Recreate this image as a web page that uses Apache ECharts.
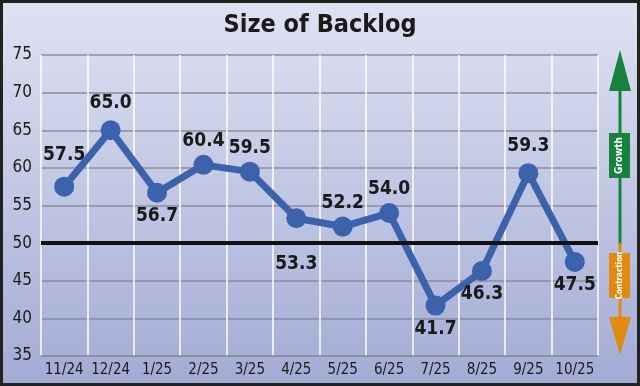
<!DOCTYPE html>
<html><head><meta charset="utf-8">
<script src="https://cdn.jsdelivr.net/npm/echarts@6/dist/echarts.min.js"></script>
<style>html,body{margin:0;padding:0;background:#fff}#c{width:640px;height:386px}</style>
</head><body><div id="c"></div>
<script>
const categories = ['11/24','12/24','1/25','2/25','3/25','4/25','5/25','6/25','7/25','8/25','9/25','10/25'];
const values = [57.5, 65.0, 56.7, 60.4, 59.5, 53.3, 52.2, 54.0, 41.7, 46.3, 59.3, 47.5];
const yTicks = [35, 40, 45, 50, 55, 60, 65, 70, 75];
const threshold = 50;
const title = 'Size of Backlog';

const FONT = "'Liberation Sans Narrow', 'DejaVu Sans Condensed', 'Roboto', sans-serif";
// label placement (style, not data)
const below = new Set([2, 5, 8, 9, 11]);
const extraDist = {0: 8, 1: 4, 5: 22, 10: 4};

const chart = echarts.init(document.getElementById('c'), null, {renderer: 'canvas'});
const data = values.map((v, i) => ({
  value: v,
  label: {position: below.has(i) ? 'bottom' : 'top', distance: 4 + (extraDist[i] || 0)}
}));

chart.setOption({
  animation: false,
  title: {
    text: title, left: 'center', top: 8,
    textStyle: {fontFamily: FONT, fontSize: 25, fontWeight: 'bold', color: '#1a1a1a'}
  },
  graphic: [
    {type: 'rect', z: -10, silent: true,
     shape: {x: 1.5, y: 1.5, width: 637, height: 383},
     style: {
       fill: new echarts.graphic.LinearGradient(0, 0, 0, 1, [
         {offset: 0, color: '#e0e2f2'}, {offset: 1, color: '#a2abd5'}]),
       stroke: '#222', lineWidth: 3
     }},
    // green arrow
    {type: 'rect', shape: {x: 618.5, y: 80, width: 3, height: 165}, style: {fill: '#17813f'}},
    {type: 'polygon', shape: {points: [[620, 50], [609, 91], [631, 91]]}, style: {fill: '#17813f'}},
    {type: 'rect', shape: {x: 609, y: 133, width: 21, height: 45}, style: {fill: '#17813f'}},
    {type: 'text', x: 619.5, y: 155.5, rotation: Math.PI / 2,
     style: {text: 'Growth', fill: '#fff', font: "bold 10px " + FONT, align: 'center', verticalAlign: 'middle'}},
    // orange arrow
    {type: 'rect', shape: {x: 618.5, y: 243, width: 3, height: 80}, style: {fill: '#e08a12'}},
    {type: 'polygon', shape: {points: [[620, 355], [609, 317], [631, 317]]}, style: {fill: '#e08a12'}},
    {type: 'rect', shape: {x: 609, y: 253, width: 21, height: 45}, style: {fill: '#e08a12'}},
    {type: 'text', x: 619.5, y: 275.5, rotation: Math.PI / 2,
     style: {text: 'Contraction', fill: '#fff', font: "bold 8px " + FONT, align: 'center', verticalAlign: 'middle'}}
  ],
  grid: {left: 41, right: 42, top: 55, bottom: 30},
  xAxis: {
    type: 'category', data: categories, boundaryGap: true,
    axisLine: {show: true, lineStyle: {color: '#8a8d9c', width: 1.5}},
    axisTick: {show: false},
    axisLabel: {fontFamily: FONT, fontSize: 15, color: '#1a1a1a', margin: 7, interval: 0},
    splitLine: {show: true, lineStyle: {color: '#ffffff', width: 1.5}}
  },
  yAxis: {
    type: 'value', min: yTicks[0], max: yTicks[yTicks.length - 1], interval: 5,
    axisLine: {show: false}, axisTick: {show: false},
    axisLabel: {fontFamily: FONT, fontSize: 17, color: '#1a1a1a', margin: 9},
    splitLine: {show: true, lineStyle: {color: '#8a8d9c', width: 1.5}}
  },
  series: [{
    type: 'line', data: data,
    lineStyle: {color: '#3b62ab', width: 7},
    itemStyle: {color: '#3b62ab'},
    symbol: 'circle', symbolSize: 20,
    label: {show: true, formatter: p => p.value.toFixed(1),
      fontFamily: FONT, fontSize: 19, fontWeight: 'bold', color: '#1a1a1a'},
    markLine: {
      silent: true, symbol: 'none', label: {show: false},
      lineStyle: {color: '#111', width: 4, type: 'solid'},
      data: [{yAxis: threshold}]
    },
    z: 3
  }]
});
</script></body></html>
